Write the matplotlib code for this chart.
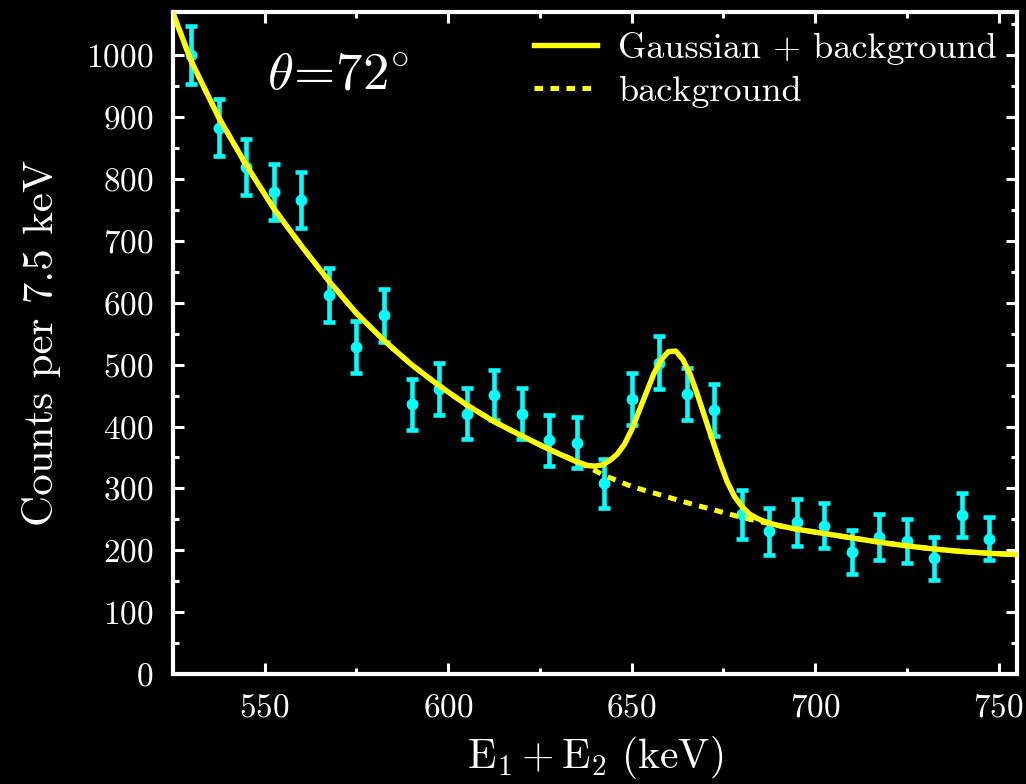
import numpy as np
import matplotlib
matplotlib.use("Agg")
import matplotlib.pyplot as plt
from matplotlib.ticker import MultipleLocator

plt.rcParams['font.family'] = 'serif'
plt.rcParams['font.serif'] = ['cmr10']
plt.rcParams['mathtext.fontset'] = 'cm'
plt.rcParams['axes.formatter.use_mathtext'] = True

# measured spectrum (7.5 keV bins)
energy = [530.0, 537.5, 545.0, 552.5, 560.0, 567.5, 575.0, 582.5, 590.0, 597.5,
          605.0, 612.5, 620.0, 627.5, 635.0, 642.5, 650.0, 657.5, 665.0, 672.5,
          680.0, 687.5, 695.0, 702.5, 710.0, 717.5, 725.0, 732.5, 740.0, 747.5]
counts = [1000, 883, 819, 779, 766, 613, 529, 580, 436, 460,
          421, 451, 421, 378, 374, 308, 445, 503, 452, 426,
          258, 231, 245, 240, 197, 221, 215, 187, 257, 219]
errors = [47, 46, 45, 46, 45, 44, 42, 43, 41, 42,
          41, 41, 41, 41, 41, 40, 42, 43, 42, 42,
          39, 38, 38, 37, 36, 37, 36, 35, 36, 35]

# background curve
bkg_e = [525, 530, 537.5, 545, 552.5, 560, 567.5, 575, 582.5, 590, 597.5, 605,
         612.5, 620, 627.5, 635, 642.5, 650, 657.5, 665, 672.5, 680, 687.5,
         695, 702.5, 710, 717.5, 725, 732.5, 740, 747.5, 755]
bkg_counts = [1068, 990, 899, 822, 752, 692, 635, 583, 539, 500, 466, 435,
              408, 385, 363, 344, 321, 303, 290, 277, 265, 253, 243,
              234, 227, 220, 213, 207, 202, 198, 195, 193]

# Gaussian + background curve around the peak
peak_e = [635, 638, 640, 642, 644, 646, 648, 650, 652, 654, 656, 658, 660, 662,
          664, 666, 668, 670, 672, 674, 676, 678, 680, 682, 684, 686, 688, 690]
peak_counts = [343, 337, 336, 338, 345, 355, 371, 395, 425, 455, 485, 508, 521, 522,
               508, 483, 450, 414, 378, 343, 311, 287, 271, 259, 252, 247, 243, 240]

be = np.array(bkg_e)
bc = np.array(bkg_counts)
tot_e = np.concatenate([be[be < 635], peak_e, be[be > 690]])
tot_c = np.concatenate([bc[be < 635], peak_counts, bc[be > 690]])

fig = plt.figure(figsize=(10.26, 7.84), dpi=100, facecolor='black')
ax = fig.add_axes([173 / 1026, 110 / 784, 844 / 1026, 662 / 784], facecolor='black')

yellow = '#ffff00'
cyan = '#00ffff'

ax.plot(bkg_e, bkg_counts, color=yellow, lw=3.6, ls=(0, (1.7, 1.5)),
        label='background', zorder=3)
ax.plot(tot_e, tot_c, color=yellow, lw=3.9, label='Gaussian + background',
        zorder=4, solid_joinstyle='round')
ax.errorbar(energy, counts, yerr=errors, fmt='o', color=cyan, ms=7.5,
            elinewidth=3.3, capsize=4.5, capthick=3.3, zorder=2)

ax.set_xlim(525, 755)
ax.set_ylim(0, 1070)
ax.xaxis.set_major_locator(MultipleLocator(50))
ax.xaxis.set_minor_locator(MultipleLocator(25))
ax.yaxis.set_major_locator(MultipleLocator(100))
ax.yaxis.set_minor_locator(MultipleLocator(50))

for s in ax.spines.values():
    s.set_color('white')
    s.set_linewidth(3)
ax.tick_params(which='both', direction='in', top=True, right=True,
               colors='white', labelsize=24, width=2.2)
ax.tick_params(which='major', length=8, pad=14)
ax.tick_params(which='minor', length=4)

ax.set_xlabel(r'$\mathrm{E_1 + E_2\ (keV)}$', color='white', fontsize=30,
              labelpad=8)
ax.set_ylabel('Counts per 7.5 keV', color='white', fontsize=31, labelpad=18)

ax.text(0.111, 0.885, r'$\theta\!=\!72^{\circ}$', transform=ax.transAxes,
        color='white', fontsize=38, va='baseline', ha='left')

handles, labels = ax.get_legend_handles_labels()
leg = ax.legend(handles[::-1], labels[::-1], loc='upper right', frameon=False,
                fontsize=26, handlelength=1.75, handletextpad=0.6,
                borderaxespad=0.35, labelspacing=0.3, borderpad=0.2)
for t in leg.get_texts():
    t.set_color('white')

fig.savefig('out.png', dpi=100, facecolor='black')
